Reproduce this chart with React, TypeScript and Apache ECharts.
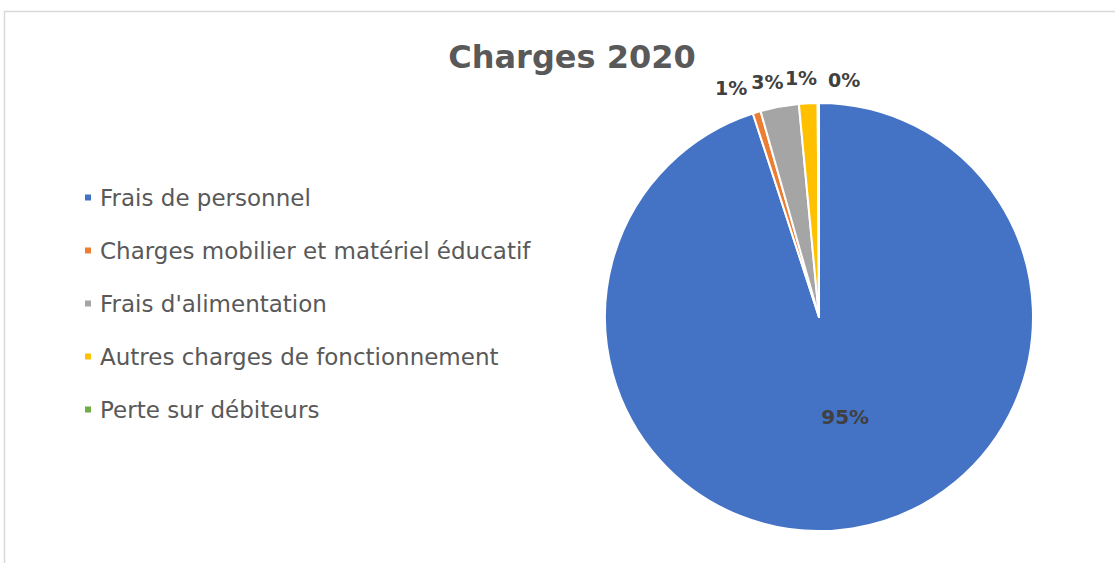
import React, { useEffect, useRef } from "react";
import * as echarts from "echarts";

const categories = [
  "Frais de personnel",
  "Charges mobilier et matériel éducatif",
  "Frais d'alimentation",
  "Autres charges de fonctionnement",
  "Perte sur débiteurs",
];
const values = [95.0, 0.6, 2.9, 1.4, 0.1];
const colors = ["#4472C4", "#ED7D31", "#A5A5A5", "#FFC000", "#70AD47"];
const titleText = "Charges 2020";
// per-slice label nudges (style only)
const labelOffsets: number[][] = [[9, -9], [2, -3], [13, -3], [15, -3], [47, -1]];

export default function App() {
  const ref = useRef<HTMLDivElement>(null);
  useEffect(() => {
    if (!ref.current) return;
    const chart = echarts.init(ref.current, null, { renderer: "svg" });
    const total = values.reduce((a, b) => a + b, 0);
    chart.setOption({
      animation: false,
      color: colors,
      title: {
        text: titleText,
        left: 567,
        top: 36,
        textAlign: "center",
        textStyle: {
          fontFamily: "DejaVu Sans",
          fontSize: 32,
          fontWeight: "bold",
          color: "#595959",
        },
      },
      graphic: [
        {
          type: "rect",
          shape: { x: 4.5, y: 11.5, width: 1200, height: 700 },
          style: { fill: "none", stroke: "#d9d9d9", lineWidth: 1.5 },
          silent: true,
        },
      ],
      legend: {
        orient: "vertical",
        left: 78,
        top: 181,
        icon: "rect",
        itemWidth: 8,
        itemHeight: 8,
        itemGap: 30,
        textStyle: {
          fontFamily: "DejaVu Sans",
          fontSize: 23,
          color: "#595959",
          lineHeight: 22,
          padding: [0, 0, 0, 3],
        },
        data: categories,
      },
      series: [
        {
          type: "pie",
          center: [819, 317],
          radius: [0, 214],
          startAngle: 90,
          clockwise: true,
          avoidLabelOverlap: false,
          labelLayout: { hideOverlap: false },
          itemStyle: { borderColor: "#ffffff", borderWidth: 2 },
          label: {
            show: true,
            position: "outside",
            formatter: (p: any) => Math.round((p.value / total) * 100) + "%",
            fontFamily: "DejaVu Sans",
            fontSize: 19,
            fontWeight: "bold",
            color: "#404040",
          },
          labelLine: { show: false, length: 22, length2: 0 },
          emphasis: { disabled: true },
          data: categories.map((name, i) =>
            i === 0
              ? { name, value: values[i], label: { position: "inside", offset: labelOffsets[i], fontSize: 20 } }
              : { name, value: values[i], label: { offset: labelOffsets[i] } }
          ),
        },
      ],
    });
    return () => chart.dispose();
  }, []);
  return (
    <div
      ref={ref}
      style={{ position: "absolute", left: 0, top: 0, width: 1115, height: 563 }}
    />
  );
}
